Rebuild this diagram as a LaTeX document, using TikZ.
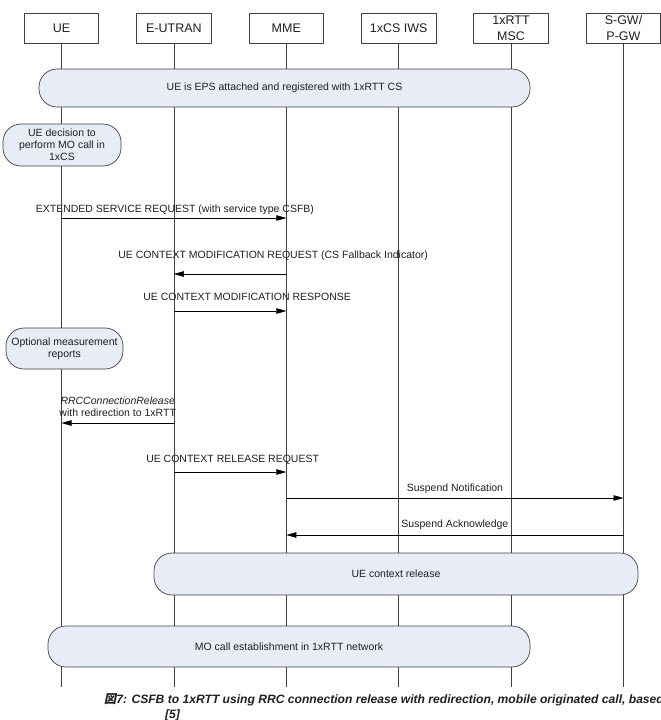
\documentclass[tikz,border=0pt]{standalone}
\usepackage{fontspec}
\setmainfont{Liberation Sans}
\newfontfamily\cjkfont{Noto Sans CJK JP}[FakeSlant=0.2]
\usetikzlibrary{positioning, arrows.meta}
\definecolor{bubblefill}{HTML}{E8ECF7}
\definecolor{linegray}{HTML}{404040}
\definecolor{textgray}{HTML}{202020}

\begin{document}
\begin{tikzpicture}[
        x=1pt, y=-1pt,
        font=\fontsize{10.5}{12}\selectfont,
        text=textgray,
        entity/.style={rectangle, draw=linegray, line width=0.8pt, minimum width=74.5pt, minimum height=30pt, inner ysep=1pt, align=center, font=\fontsize{12.5}{16}\selectfont},
        lifeline/.style={draw=linegray, line width=0.7pt},
        bubble/.style={rectangle, rounded corners=18pt, draw=linegray, fill=bubblefill, line width=0.7pt, inner sep=0pt, align=center},
        msg/.style={-{Triangle[length=10pt, width=5.5pt]}, line width=0.6pt, draw=black},
        msglabel/.style={anchor=base, inner sep=0pt, align=center}
    ]
    \useasboundingbox (0,0) rectangle (661,720);

    \node (ue) [entity] at (61.5,28) {UE};
    \node (enb) [entity, right=37.1pt of ue] {E-UTRAN};
    \node (mme) [entity, right=37.1pt of enb] {MME};
    \node (iws) [entity, right=37.1pt of mme] {1xCS IWS};
    \node (msc) [entity, right=37.1pt of iws] {1xRTT\\MSC};
    \node (sgw) [entity, right=37.1pt of msc] {S-GW/\\P-GW};

    \coordinate (bottom) at (0,687);
    \foreach \n in {ue, enb, mme, iws, msc, sgw}
        \draw [lifeline] (\n) -- (\n |- bottom);

    \node (attached) [bubble, minimum width=491pt, minimum height=38pt] at (284.5,88) {UE is EPS attached and registered with 1xRTT CS};
    \node (decision) [bubble, minimum width=118pt, minimum height=42pt] at (62,145) {UE decision to\\perform MO call in\\1xCS};
    \node (measure) [bubble, minimum width=117pt, minimum height=41pt] at (64.5,348.5) {Optional measurement\\reports};
    \node (release) [bubble, minimum width=484pt, minimum height=42pt] at (396,574) {UE context release};
    \node (mocall) [bubble, minimum width=482pt, minimum height=41pt] at (289,646.5) {MO call establishment in 1xRTT network};

    \coordinate (r1) at (0,218);
    \coordinate (r2) at (0,274);
    \coordinate (r3) at (0,311);
    \coordinate (r4) at (0,423);
    \coordinate (r5) at (0,472);
    \coordinate (r6) at (0,498);
    \coordinate (r7) at (0,535);

    \draw [msg] (ue |- r1) -- node[msglabel, xshift=1pt, yshift=5.2pt] {EXTENDED SERVICE REQUEST (with service type CSFB)} (mme |- r1);
    \draw [msg] (mme |- r2) -- node[msglabel, xshift=43pt, yshift=15.2pt] {UE CONTEXT MODIFICATION REQUEST (CS Fallback Indicator)} (enb |- r2);
    \draw [msg] (enb |- r3) -- node[msglabel, xshift=17pt, yshift=10.2pt] {UE CONTEXT MODIFICATION RESPONSE} (mme |- r3);
    \draw [msg] (enb |- r4) -- node[msglabel, anchor=center, yshift=16pt] {\textit{RRCConnectionRelease}\\with redirection to 1xRTT} (ue |- r4);
    \draw [msg] (enb |- r5) -- node[msglabel, xshift=2.5pt, yshift=9.2pt] {UE CONTEXT RELEASE REQUEST} (mme |- r5);
    \draw [msg] (mme |- r6) -- node[msglabel, yshift=6.2pt] {Suspend Notification} (sgw |- r6);
    \draw [msg] (sgw |- r7) -- node[msglabel, yshift=7.2pt] {Suspend Acknowledge} (mme |- r7);

    \node (caption) [anchor=base west, inner sep=0pt, align=left, font=\fontsize{12.1}{15}\selectfont\bfseries\itshape] at (104,718.8) {{\cjkfont 図}7: CSFB to 1xRTT using RRC connection release with redirection, mobile originated call, based\\\hspace*{61pt}[5]};
\end{tikzpicture}
\end{document}
